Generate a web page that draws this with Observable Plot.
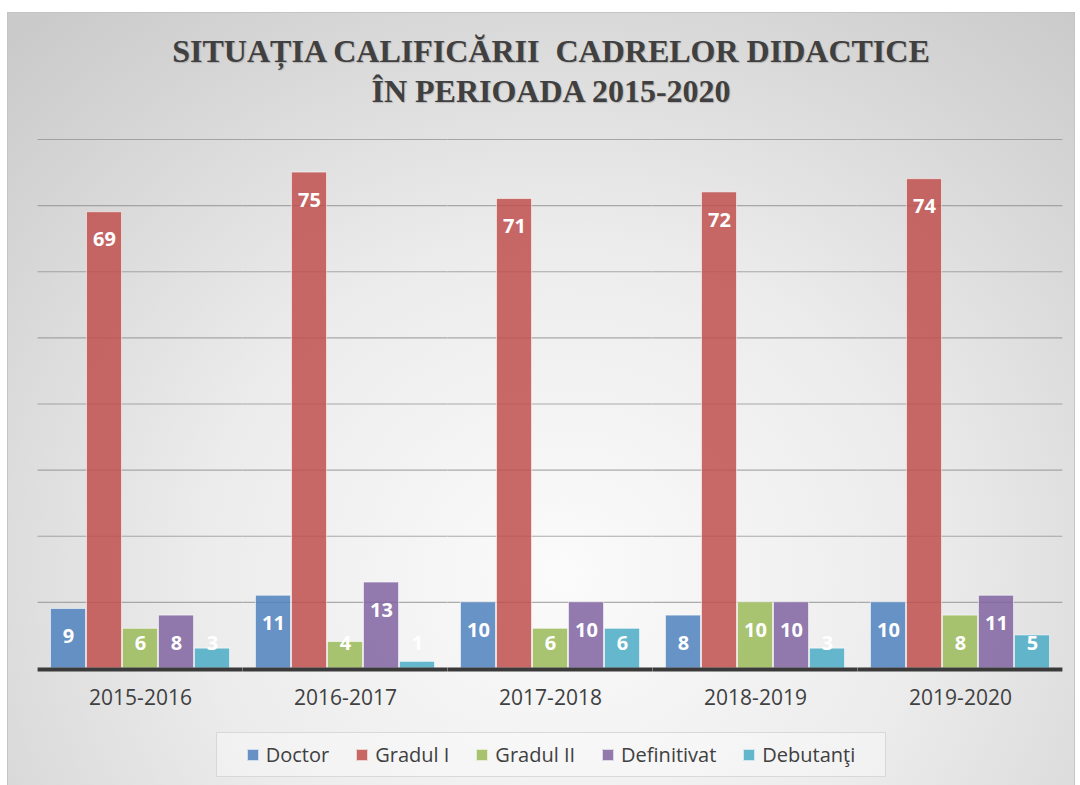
<!DOCTYPE html>
<html>
<head>
<meta charset="utf-8">
<script src="https://cdn.jsdelivr.net/npm/d3@7"></script>
<script src="https://cdn.jsdelivr.net/npm/@observablehq/plot@0.6"></script>
<style>
  html, body { margin: 0; padding: 0; background: #ffffff; width: 1080px; height: 785px; overflow: hidden; }
  #frame {
    position: absolute; left: 7px; top: 12px; width: 1068px; height: 780px;
    border: 1px solid #c4c4c4; box-sizing: border-box;
    background: radial-gradient(ellipse 75% 95% at 52% 72%, #fbfbfb 0%, #ececec 45%, #d6d6d6 80%, #cacaca 100%);
  }
  #title {
    position: absolute; left: 0; top: 31px; width: 1080px; padding-left: 22px; box-sizing: border-box;
    text-align: center; font-family: "Liberation Serif", "Times New Roman", serif; font-weight: bold;
    font-size: 32px; line-height: 40px; color: #404040; white-space: pre;
    text-shadow: 1px 1px 1px rgba(0,0,0,0.18);
  }
  #chart { position: absolute; left: 0; top: 0; }
  #legend {
    position: absolute; left: 216px; top: 732px; width: 670px; height: 45px; box-sizing: border-box;
    background: rgba(255,255,255,0.35); border: 1px solid rgba(205,205,205,0.7);
    display: flex; align-items: center; justify-content: center; gap: 27px;
    font-family: "Open Sans", sans-serif; font-size: 20px; color: #404040;
  }
  .item { display: flex; align-items: center; gap: 7px; }
  .sw { width: 12px; height: 12px; border: 1px solid rgba(255,255,255,0.7); box-sizing: border-box; }
</style>
</head>
<body>
<div id="frame"></div>
<div id="title">SITUAȚIA CALIFICĂRII  CADRELOR DIDACTICE
ÎN PERIOADA 2015-2020</div>
<div id="chart"></div>
<div id="legend"></div>
<script>
const periods = ["2015-2016", "2016-2017", "2017-2018", "2018-2019", "2019-2020"];
const series = ["Doctor", "Gradul I", "Gradul II", "Definitivat", "Debutanţi"];
const doctor = [9, 11, 10, 8, 10];
const gradulI = [69, 75, 71, 72, 74];
const gradulII = [6, 4, 6, 10, 8];
const definitivat = [8, 13, 10, 10, 11];
const debutanti = [3, 1, 6, 3, 5];
const colors = ["#4F81BD", "#C0504D", "#9BBB59", "#8064A2", "#4BACC6"];
const gridValues = [10, 20, 30, 40, 50, 60, 70, 80];

const seriesValues = [doctor, gradulI, gradulII, definitivat, debutanti];
const data = [];
periods.forEach((p, i) => {
  series.forEach((s, j) => data.push({period: p, series: s, value: seriesValues[j][i]}));
});

const chart = Plot.plot({
  width: 1080,
  height: 718,
  marginTop: 139,
  marginBottom: 50,
  marginLeft: 37,
  marginRight: 17,
  style: {background: "transparent", fontFamily: "Open Sans, sans-serif", overflow: "visible"},
  fx: {domain: periods, paddingInner: 0.12, paddingOuter: 0.06, axis: "bottom", tickSize: 0, tickPadding: 22, label: null},
  x: {domain: series, axis: null, padding: 0},
  y: {domain: [0, 80], axis: null},
  color: {domain: series, range: colors},
  marks: [
    Plot.ruleY(gridValues, {stroke: "#8c8c8c", strokeOpacity: 0.7, strokeWidth: 1.2, insetLeft: -12.4, insetRight: -12.4}),
    Plot.barY(data, {fx: "period", x: "series", y: "value", fill: "series", fillOpacity: 0.85,
      stroke: "#ffffff", strokeOpacity: 0.55, strokeWidth: 1, insetLeft: 0.5, insetRight: 0.5}),
    Plot.text(data, {fx: "period", x: "series", y: d => Math.max(d.value - 4.2, 3.8), text: d => String(d.value),
      fill: "#ffffff", fontWeight: "bold", fontSize: 20}),
    Plot.ruleY([0], {stroke: "#3a3a3a", strokeWidth: 4, dy: 1, insetLeft: -12.4, insetRight: -12.4})
  ]
});
chart.querySelectorAll("g[aria-label='fx-axis tick label'] text, g[aria-label='fx-axis'] text").forEach(t => {
  t.setAttribute("font-size", "21");
  t.setAttribute("fill", "#404040");
});
const axisG = chart.querySelector("g[aria-label='fx-axis tick label']") || chart.querySelector("g[aria-label='fx-axis']");
if (axisG) { axisG.setAttribute("font-size", "21"); axisG.setAttribute("fill", "#404040"); }
document.getElementById("chart").appendChild(chart);

const legend = document.getElementById("legend");
series.forEach((s, i) => {
  const it = document.createElement("div");
  it.className = "item";
  const sw = document.createElement("div");
  sw.className = "sw";
  sw.style.background = colors[i];
  sw.style.opacity = 0.85;
  const tx = document.createElement("span");
  tx.textContent = s;
  it.appendChild(sw); it.appendChild(tx);
  legend.appendChild(it);
});
</script>
</body>
</html>
